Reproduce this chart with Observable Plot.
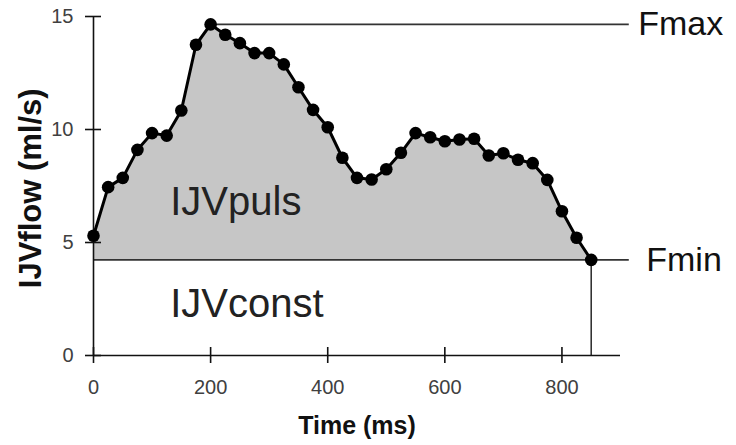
<!DOCTYPE html>
<html>
<head>
<meta charset="utf-8">
<script src="https://cdn.jsdelivr.net/npm/d3@7"></script>
<script src="https://cdn.jsdelivr.net/npm/@observablehq/plot@0.6"></script>
<style>
  html, body { margin: 0; padding: 0; background: #fff; }
  #chart svg { display: block; }
</style>
</head>
<body>
<div id="chart"></div>
<script>
// Time (ms) of each sample
const times = [0, 25, 50, 75, 100, 125, 150, 175, 200, 225, 250, 275, 300, 325, 350, 375, 400,
  425, 450, 475, 500, 525, 550, 575, 600, 625, 650, 675, 700, 725, 750, 775, 800, 825, 850];
// IJV flow (ml/s)
const flow = [5.3, 7.45, 7.86, 9.1, 9.84, 9.73, 10.84, 13.75, 14.65, 14.19, 13.82, 13.38, 13.38,
  12.88, 11.87, 10.87, 10.1, 8.75, 7.86, 7.79, 8.24, 8.97, 9.84, 9.66, 9.48, 9.56, 9.59, 8.85,
  8.95, 8.66, 8.51, 7.77, 6.38, 5.21, 4.23];
const xTicks = [0, 200, 400, 600, 800];
const yTicks = [0, 5, 10, 15];
const refLabels = ["Fmax", "Fmin"];
const areaLabels = ["IJVpuls", "IJVconst"];

const data = times.map((t, i) => ({t, f: flow[i]}));
const Fmax = d3.max(flow);
const Fmin = d3.min(flow);
const tMax = times[flow.indexOf(Fmax)];
const tEnd = times[times.length - 1];
const lineEnd = 915;

const chart = Plot.plot({
  width: 736,
  height: 445,
  marginLeft: 93,
  marginRight: 116,
  marginTop: 16,
  marginBottom: 90,
  x: {domain: [0, 900]},
  y: {domain: [0, 15]},
  style: {fontFamily: "Liberation Sans, Arial, sans-serif", background: "#fff", overflow: "visible"},
  marks: [
    Plot.areaY(data, {x: "t", y1: Fmin, y2: "f", fill: "#c6c6c6"}),
    Plot.ruleY([Fmin], {x1: 0, x2: lineEnd, stroke: "#333", strokeWidth: 1.6, clip: false}),
    Plot.ruleY([Fmax], {x1: tMax, x2: lineEnd, stroke: "#333", strokeWidth: 1.6, clip: false}),
    Plot.ruleX([tEnd], {y1: 0, y2: Fmin, stroke: "#333", strokeWidth: 1.6}),
    Plot.ruleY([0], {x1: 0, x2: 900, stroke: "#111", strokeWidth: 1.6}),
    Plot.ruleX([0], {y1: 0, y2: 15, stroke: "#111", strokeWidth: 1.6}),
    Plot.axisX(xTicks, {tickSize: 8, tickPadding: 16, stroke: "#111", strokeWidth: 1.6, fontSize: 20, fill: "#404040", label: null}),
    Plot.axisX(xTicks, {tickSize: 8, dy: -8, text: null, stroke: "#111", strokeWidth: 1.6, label: null}),
    Plot.axisY(yTicks, {tickSize: 8, tickPadding: 12, stroke: "#111", strokeWidth: 1.6, fontSize: 20, fill: "#404040", label: null}),
    Plot.axisY(yTicks, {tickSize: 8, dx: 8, text: null, stroke: "#111", strokeWidth: 1.6, label: null}),
    Plot.line(data, {x: "t", y: "f", stroke: "#000", strokeWidth: 3}),
    Plot.dot(data, {x: "t", y: "f", r: 6.3, fill: "#000"}),
    Plot.text([refLabels[0]], {x: lineEnd, y: Fmax, text: d => d, textAnchor: "start", dx: 9, fontSize: 34, fill: "#111", clip: false}),
    Plot.text([refLabels[1]], {x: lineEnd, y: Fmin, text: d => d, textAnchor: "start", dx: 17, fontSize: 34, fill: "#111", clip: false}),
    Plot.text([areaLabels[0]], {x: 131, y: 6.2, text: d => d, textAnchor: "start", lineAnchor: "bottom", fontSize: 40, fill: "#222"}),
    Plot.text([areaLabels[1]], {x: 131, y: 1.7, text: d => d, textAnchor: "start", lineAnchor: "bottom", fontSize: 40, fill: "#222"}),
    Plot.text(["Time (ms)"], {frameAnchor: "bottom", dy: 78, text: d => d, fontSize: 25, fontWeight: "bold", fill: "#111"}),
    Plot.text(["IJVflow (ml/s)"], {x: -107, y: 7.4, rotate: -90, text: d => d, fontSize: 31, fontWeight: "bold", fill: "#111", clip: false})
  ]
});
document.getElementById("chart").append(chart);
</script>
</body>
</html>
